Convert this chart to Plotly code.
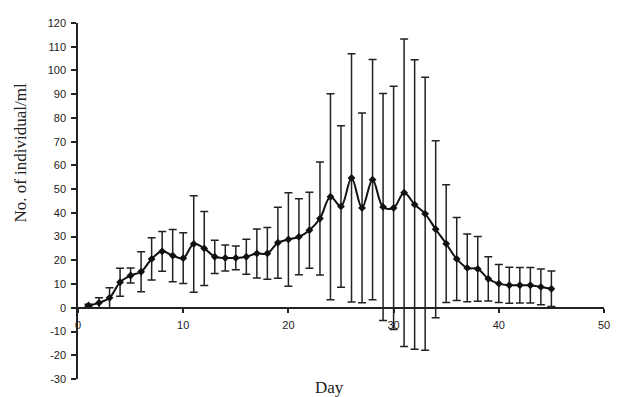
import plotly.graph_objects as go

days = list(range(1, 46))
mean_count = [1.0, 2.1, 4.2, 10.8, 13.6, 15.2, 20.6, 23.8, 22.0, 20.9,
              26.9, 25.0, 21.5, 21.0, 21.0, 21.5, 22.9, 22.9, 27.4, 28.8,
              29.9, 32.7, 37.6, 46.8, 42.7, 54.7, 42.1, 54.0, 42.5, 42.1,
              48.5, 43.5, 39.6, 33.1, 27.0, 20.6, 16.8, 16.4, 12.2, 10.2,
              9.5, 9.5, 9.5, 8.8, 8.0]
error = [0.5, 2.1, 4.3, 5.9, 3.2, 8.4, 8.9, 8.4, 11.0, 10.7,
         20.3, 15.6, 7.0, 5.5, 5.0, 7.4, 10.3, 10.9, 15.0, 19.7,
         16.0, 16.0, 23.8, 43.4, 34.0, 52.3, 40.0, 50.6, 47.8, 51.2,
         64.8, 61.0, 57.5, 37.3, 24.8, 17.5, 14.3, 13.6, 9.3, 8.0,
         7.6, 7.5, 7.5, 7.5, 7.5]
x_ticks = [0, 10, 20, 30, 40, 50]
y_ticks = list(range(-30, 121, 10))
y_tick_text = [str(v) for v in y_ticks]  # plain hyphen minus as in the reference

fig = go.Figure()
fig.add_trace(go.Scatter(
    x=days, y=mean_count, mode="lines+markers",
    line=dict(color="#111", width=2, shape="spline", smoothing=1.0),
    marker=dict(symbol="diamond", size=6, color="#111"),
    error_y=dict(type="data", array=error, visible=True,
                 color="#222", thickness=1.5, width=4),
    showlegend=False,
))

fig.update_layout(
    width=618, height=397,
    margin=dict(l=78, r=8, t=23, b=18),
    paper_bgcolor="white", plot_bgcolor="white",
    font=dict(family="Liberation Sans, Arial, sans-serif", size=11, color="#222"),
    xaxis=dict(range=[0, 50], tickvals=x_ticks, showgrid=False, zeroline=False,
               showline=True, linecolor="#222", linewidth=1.5,
               ticks="outside", ticklen=4, tickcolor="#222", tickwidth=1.5,
               anchor="free", position=0.2, ticklabelstandoff=3),
    yaxis=dict(range=[-30, 120], tickvals=y_ticks, ticktext=y_tick_text,
               showgrid=False, zeroline=False,
               showline=True, linecolor="#222", linewidth=1.5,
               ticks="outside", ticklen=5, tickcolor="#222", tickwidth=1.5,
               ticklabelstandoff=3),
    annotations=[
        dict(text="No. of individual/ml", xref="paper", yref="paper",
             x=-0.109, y=0.635, xanchor="center", yanchor="middle",
             textangle=-90, showarrow=False,
             font=dict(family="Liberation Serif, Times New Roman, serif", size=17, color="#222")),
        dict(text="Day", xref="paper", yref="paper",
             x=0.478, y=-0.025, xanchor="center", yanchor="middle",
             showarrow=False,
             font=dict(family="Liberation Serif, Times New Roman, serif", size=17, color="#222")),
    ],
)

fig.write_html(
    "out.html",
    config={"displayModeBar": False},
    post_script="document.body.style.margin='0px';document.body.style.overflow='hidden';",
)
